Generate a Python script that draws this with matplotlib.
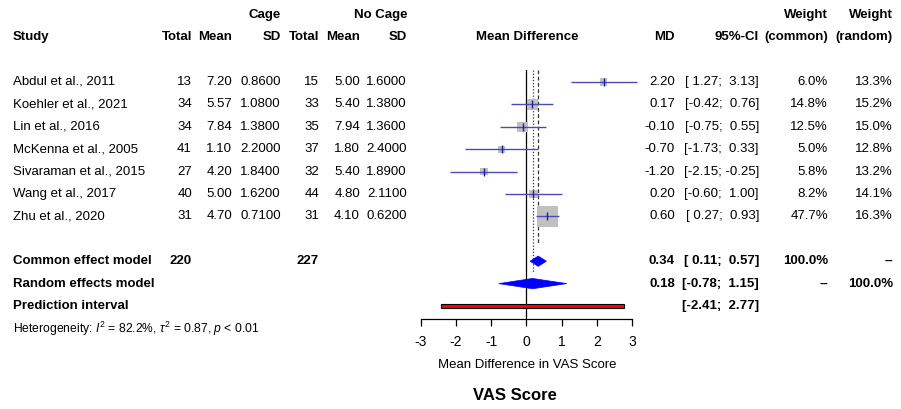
import matplotlib
matplotlib.use("Agg")
import matplotlib.pyplot as plt
from matplotlib.patches import Polygon, Rectangle

plt.rcParams['font.family'] = ['Liberation Sans', 'DejaVu Sans']
plt.rcParams['mathtext.fontset'] = 'custom'
plt.rcParams['mathtext.rm'] = 'Liberation Sans'
plt.rcParams['mathtext.it'] = 'Liberation Sans:italic'

# ---------------- data ----------------
studies = ["Abdul et al., 2011", "Koehler et al., 2021", "Lin et al., 2016",
           "McKenna et al., 2005", "Sivaraman et al., 2015", "Wang et al., 2017",
           "Zhu et al., 2020"]
n_cage = [13, 34, 34, 41, 27, 40, 31]
mean_cage = [7.20, 5.57, 7.84, 1.10, 4.20, 5.00, 4.70]
sd_cage = [0.86, 1.08, 1.38, 2.20, 1.84, 1.62, 0.71]
n_nocage = [15, 33, 35, 37, 32, 44, 31]
mean_nocage = [5.00, 5.40, 7.94, 1.80, 5.40, 4.80, 4.10]
sd_nocage = [1.60, 1.38, 1.36, 2.40, 1.89, 2.11, 0.62]
md = [2.20, 0.17, -0.10, -0.70, -1.20, 0.20, 0.60]
ci_lo = [1.27, -0.42, -0.75, -1.73, -2.15, -0.60, 0.27]
ci_hi = [3.13, 0.76, 0.55, 0.33, -0.25, 1.00, 0.93]
w_common = [6.0, 14.8, 12.5, 5.0, 5.8, 8.2, 47.7]
w_random = [13.3, 15.2, 15.0, 12.8, 13.2, 14.1, 16.3]

total_cage = 220
total_nocage = 227
common_md, common_lo, common_hi = 0.34, 0.11, 0.57
random_md, random_lo, random_hi = 0.18, -0.78, 1.15
pred_lo, pred_hi = -2.41, 2.77
x_ticks = [-3, -2, -1, 0, 1, 2, 3]
heterogeneity = r"Heterogeneity: $I^2$ = 82.2%, $\tau^2$ = 0.87, $p$ < 0.01"

# ---------------- layout ----------------
W, H = 901, 409
fig = plt.figure(figsize=(W / 100, H / 100), dpi=100)

ROW0, PITCH = 82.0, 22.4
def ypx(row):
    return ROW0 + row * PITCH
def row_of(px):
    return (px - ROW0) / PITCH

# text layer in pixel coordinates
axt = fig.add_axes([0, 0, 1, 1])
axt.set_xlim(0, W)
axt.set_ylim(H, 0)
axt.axis('off')

FS = 9.5
def txt(x, row, s, ha='right', bold=False, fs=FS):
    axt.text(x, ypx(row), s, ha=ha, va='center', fontsize=fs,
             fontweight='bold' if bold else 'normal')

# column right edges (pixels)
X_STUDY = 13
X_NC, X_MC, X_SC = 192, 232, 281
X_NN, X_MN, X_SN = 319, 360, 407
X_MD, X_CI = 675, 759
X_WC, X_WR = 828, 893
X_FOREST = 527

DASH = "--"

# headers
txt(X_SC, -3, "Cage", bold=True)
txt(X_SN, -3, "No Cage", bold=True)
txt(X_WC, -3, "Weight", bold=True)
txt(X_WR, -3, "Weight", bold=True)
txt(X_STUDY, -2, "Study", ha='left', bold=True)
for x, s in [(X_NC, "Total"), (X_MC, "Mean"), (X_SC, "SD"),
             (X_NN, "Total"), (X_MN, "Mean"), (X_SN, "SD"),
             (X_MD, "MD"), (X_CI, "95%-CI"), (X_WC, "(common)"), (X_WR, "(random)")]:
    txt(x, -2, s, bold=True)
txt(X_FOREST, -2, "Mean Difference", ha='center', bold=True)

def ci_str(lo, hi):
    return f"[{lo:5.2f}; {hi:5.2f}]"

for i, name in enumerate(studies):
    txt(X_STUDY, i, name, ha='left')
    txt(X_NC, i, f"{n_cage[i]}")
    txt(X_MC, i, f"{mean_cage[i]:.2f}")
    txt(X_SC, i, f"{sd_cage[i]:.4f}")
    txt(X_NN, i, f"{n_nocage[i]}")
    txt(X_MN, i, f"{mean_nocage[i]:.2f}")
    txt(X_SN, i, f"{sd_nocage[i]:.4f}")
    txt(X_MD, i, f"{md[i]:.2f}")
    txt(X_CI, i, ci_str(ci_lo[i], ci_hi[i]))
    txt(X_WC, i, f"{w_common[i]:.1f}%")
    txt(X_WR, i, f"{w_random[i]:.1f}%")

# summary rows
txt(X_STUDY, 8, "Common effect model", ha='left', bold=True)
txt(X_NC, 8, f"{total_cage}", bold=True)
txt(X_NN, 8, f"{total_nocage}", bold=True)
txt(X_MD, 8, f"{common_md:.2f}", bold=True)
txt(X_CI, 8, ci_str(common_lo, common_hi), bold=True)
txt(X_WC, 8, "100.0%", bold=True)
txt(X_WR, 8, DASH, bold=True)

txt(X_STUDY, 9, "Random effects model", ha='left', bold=True)
txt(X_MD, 9, f"{random_md:.2f}", bold=True)
txt(X_CI, 9, ci_str(random_lo, random_hi), bold=True)
txt(X_WC, 9, DASH, bold=True)
txt(X_WR, 9, "100.0%", bold=True)

txt(X_STUDY, 10, "Prediction interval", ha='left', bold=True)
txt(X_CI, 10, ci_str(pred_lo, pred_hi), bold=True)

txt(X_STUDY, 11, heterogeneity, ha='left', fs=8.75)

axt.text(X_FOREST, 365, "Mean Difference in VAS Score", ha='center', va='center', fontsize=9.5)
axt.text(515, 395, "VAS Score", ha='center', va='center', fontsize=12, fontweight='bold')

# ---------------- forest axes ----------------
PX_LEFT, PX_RIGHT = 420.5, 632.0
PX_TOP, PX_BOT = 70.0, 319.0
axf = fig.add_axes([PX_LEFT / W, 1 - PX_BOT / H, (PX_RIGHT - PX_LEFT) / W, (PX_BOT - PX_TOP) / H])
axf.set_xlim(x_ticks[0], x_ticks[-1])
axf.set_ylim(row_of(PX_BOT), row_of(PX_TOP))
axf.patch.set_alpha(0)
for s in ['top', 'left', 'right']:
    axf.spines[s].set_visible(False)
axf.spines['bottom'].set_linewidth(0.9)
axf.set_yticks([])
axf.set_xticks(x_ticks)
axf.set_xticklabels([f"{t}" for t in x_ticks], fontsize=10)
axf.tick_params(axis='x', length=5, width=0.9, pad=6.5)

# reference lines
axf.axvline(0, color='black', lw=0.9, zorder=1)
axf.plot([common_md, common_md], [row_of(PX_TOP), 7.2], color='#333333', lw=0.9,
         linestyle=(0, (3, 2)), zorder=1)
axf.plot([random_md, random_md], [row_of(PX_TOP), 8.5], color='#333333', lw=0.9,
         linestyle=(0, (1, 1.5)), zorder=1)

# studies
K_SQ = 4.6
ys = list(range(len(studies)))
axf.scatter(md, ys, s=[K_SQ * w for w in w_common], marker='s', color='#c0c0c0',
            linewidths=0, zorder=2, clip_on=False)
axf.hlines(ys, ci_lo, ci_hi, color='#4a4ab8', lw=1.0, zorder=3, clip_on=False)
axf.scatter(md, ys, marker='|', s=40, color='#1c1ca8', linewidths=1.0, zorder=4, clip_on=False)

# diamonds
def diamond(row, est, lo, hi, h=0.23):
    axf.add_patch(Polygon([[lo, row], [est, row - h], [hi, row], [est, row + h]],
                          closed=True, facecolor='#0000ff', edgecolor='#0000ff',
                          lw=0.5, zorder=3))
diamond(8, common_md, common_lo, common_hi)
diamond(9, random_md, random_lo, random_hi)

# prediction interval
axf.add_patch(Rectangle((pred_lo, 10 - 0.1), pred_hi - pred_lo, 0.2,
                        facecolor='#ff0000', edgecolor='black', lw=0.8, zorder=3))

fig.savefig("out.png", dpi=100)
